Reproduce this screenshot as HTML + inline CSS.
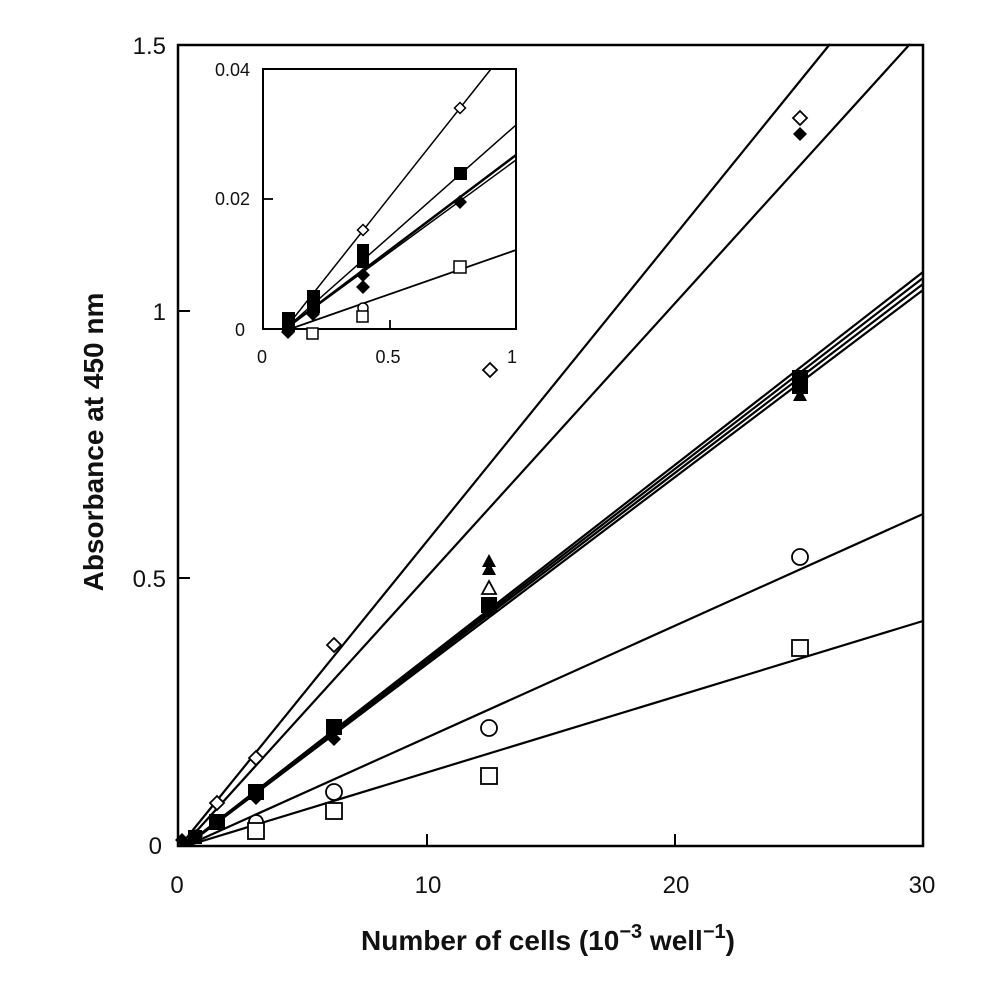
<!DOCTYPE html>
<html><head><meta charset="utf-8"><style>
html,body{margin:0;padding:0;background:#fff}
svg{display:block;font-family:"Liberation Sans",Arial,sans-serif}
</style></head><body>
<svg width="1002" height="986" viewBox="0 0 1002 986" xmlns="http://www.w3.org/2000/svg">
<defs>
<path id="dia" d="M0,-7 L7,0 L0,7 L-7,0 Z"/>
<path id="sdia" d="M0,-5.5 L5.5,0 L0,5.5 L-5.5,0 Z"/>
<path id="tri" d="M0,-8 L7,5 L-7,5 Z"/>
</defs>
<rect x="178" y="45" width="745" height="801" fill="none" stroke="#000" stroke-width="2.5"/>
<g stroke="#000" stroke-width="2">
<line x1="178" y1="578" x2="190" y2="578"/><line x1="178" y1="311" x2="190" y2="311"/>
<line x1="427" y1="846" x2="427" y2="834"/><line x1="675" y1="846" x2="675" y2="834"/>
</g>
<g font-size="24" fill="#111" text-anchor="end">
<text x="166" y="54">1.5</text><text x="166" y="320">1</text><text x="166" y="587">0.5</text><text x="162" y="854">0</text>
</g>
<g font-size="24" fill="#111" text-anchor="middle">
<text x="177" y="893">0</text><text x="428" y="893">10</text><text x="676" y="893">20</text><text x="922" y="893">30</text>
</g>
<text x="548" y="950" font-size="28" font-weight="bold" text-anchor="middle" fill="#111">Number of cells (10<tspan dy="-12" font-size="20">−3</tspan><tspan dy="12"> well</tspan><tspan dy="-12" font-size="20">−1</tspan><tspan dy="12">)</tspan></text>
<text transform="translate(103,442) rotate(-90)" font-size="28" font-weight="bold" text-anchor="middle" fill="#111">Absorbance at 450 nm</text>
<g stroke="#000" stroke-width="2.2" fill="none">
<line x1="180" y1="846" x2="830" y2="44"/>
<line x1="183" y1="846" x2="910" y2="44"/>
<line x1="185" y1="846" x2="923" y2="272"/>
<line x1="185" y1="846" x2="923" y2="278"/>
<line x1="185" y1="846" x2="923" y2="284"/>
<line x1="186" y1="846" x2="923" y2="290"/>
<line x1="186" y1="846" x2="923" y2="514"/>
<line x1="186" y1="846" x2="923" y2="621"/>
</g>
<g fill="#fff" stroke="#000" stroke-width="1.8">
<use href="#dia" x="800" y="118"/><use href="#dia" x="334" y="645"/><use href="#dia" x="256" y="758"/><use href="#dia" x="217" y="803"/><use href="#dia" x="490" y="370"/>
<circle cx="800" cy="557" r="8"/><circle cx="489" cy="728" r="8"/><circle cx="334" cy="792" r="8"/><circle cx="256" cy="822" r="7"/>
<rect x="792" y="640" width="16" height="16"/><rect x="481" y="768" width="16" height="16"/><rect x="326" y="803" width="16" height="16"/><rect x="248" y="823" width="16" height="16"/>
<use href="#tri" x="489" y="589"/>
</g>
<g fill="#000">
<use href="#dia" x="800" y="134"/>
<rect x="792" y="370" width="16" height="16"/><rect x="792" y="380" width="16" height="14"/><use href="#tri" x="800" y="396"/>
<use href="#tri" x="489" y="562"/><use href="#tri" x="489" y="570"/>
<rect x="481" y="597" width="16" height="16"/><use href="#dia" x="489" y="611"/>
<rect x="326" y="719" width="16" height="16"/><use href="#dia" x="334" y="739"/>
<rect x="248" y="784" width="16" height="16"/><use href="#dia" x="256" y="798"/>
<rect x="209" y="814" width="16" height="16"/><use href="#dia" x="217" y="822"/>
<rect x="188" y="830" width="14" height="14"/><use href="#dia" x="182" y="840"/><use href="#dia" x="196" y="836"/>
</g>
<rect x="263" y="69" width="253" height="260" fill="#fff" stroke="#000" stroke-width="2"/>
<g stroke="#000" stroke-width="1.8">
<line x1="263" y1="199" x2="273" y2="199"/><line x1="390" y1="329" x2="390" y2="320"/>
</g>
<g font-size="18" fill="#111" text-anchor="end">
<text x="250" y="76">0.04</text><text x="250" y="205">0.02</text><text x="245" y="336">0</text>
</g>
<g font-size="18" fill="#111" text-anchor="middle">
<text x="262" y="363">0</text><text x="388" y="363">0.5</text><text x="512" y="363">1</text>
</g>
<g stroke="#000" fill="none">
<line x1="285" y1="329" x2="491" y2="69" stroke-width="1.5"/>
<line x1="285" y1="329" x2="516" y2="125" stroke-width="1.5"/>
<line x1="285" y1="329" x2="516" y2="155" stroke-width="2.5"/>
<line x1="285" y1="329" x2="516" y2="160" stroke-width="1.5"/>
<line x1="290" y1="329" x2="516" y2="250" stroke-width="1.8"/>
</g>
<g fill="#fff" stroke="#000" stroke-width="1.5">
<use href="#sdia" x="460" y="108"/>
<rect x="454" y="261" width="12" height="12"/>
<circle cx="363" cy="308" r="5"/><rect x="357" y="311" width="11" height="11"/>
<rect x="307" y="328" width="11" height="11"/>
<use href="#sdia" x="363" y="230"/>
</g>
<g fill="#000">
<rect x="454" y="167" width="13" height="13"/><use href="#dia" x="460" y="202"/>
<rect x="357" y="244" width="12" height="12"/><rect x="357" y="256" width="12" height="12"/><use href="#dia" x="363" y="275"/><use href="#dia" x="363" y="287"/>
<rect x="307" y="290" width="13" height="13"/><rect x="307" y="300" width="13" height="13"/><use href="#dia" x="313" y="314"/>
<rect x="282" y="312" width="13" height="13"/><rect x="282" y="320" width="13" height="12"/><use href="#dia" x="288" y="332"/>
</g>
</svg>
</body></html>
